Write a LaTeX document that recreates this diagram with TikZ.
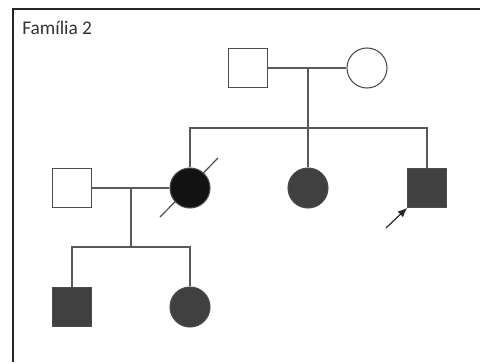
\documentclass[tikz,border=0pt]{standalone}
\usepackage{fontspec}
\setmainfont{Carlito}
\usetikzlibrary{arrows.meta}
\tikzset{
  male/.style={draw=black!70, fill=white, rectangle, minimum size=29pt, inner sep=0pt, line width=0.8pt},
  female/.style={draw=black!70, fill=white, circle, minimum size=30pt, inner sep=0pt, line width=0.8pt},
  affected/.style={fill=black!75},
  link/.style={draw=black!65, line width=0.8pt},
}
\begin{document}
\begin{tikzpicture}[x=0.75pt, y=-0.75pt]
\useasboundingbox (0,0) rectangle (480,362);
% frame
\draw[black!85, line width=1.6pt] (480,9) -- (13,9) -- (13,362);
\node[anchor=base west, inner sep=0pt, font=\fontsize{14.5}{16}\selectfont, text=black!80] (title) at (22,34) {Família 2};
% deceased (behind the circle)
\coordinate (d1) at (160,217);
\coordinate (d2) at (218,158);
\draw[black!70, line width=0.9pt] (d1) -- (d2);
% generation I
\node[male] (gf) at (248,68) {};
\node[female] (gm) at (367,68) {};
% generation II
\node[male] (hus) at (72,188) {};
\node[female, fill=black!93] (wife) at (190,188) {};
\node[female, affected] (sis) at (308,188) {};
\node[male, affected] (prob) at (427,188) {};
% generation III
\node[male, affected] (son) at (72,307) {};
\node[female, affected] (dau) at (190,307) {};
% couple lines and sibships
\coordinate (m1) at (308,68);
\coordinate (s1) at (308,128);
\coordinate (m2) at (131,188);
\coordinate (s2) at (131,247);
\draw[link] (gf.east) -- (gm.west);
\draw[link] (m1) -- (s1);
\draw[link] (wife.north) |- (s1) -| (prob.north);
\draw[link] (s1) -- (sis.north);
\draw[link] (hus.east) -- (wife.west);
\draw[link] (m2) -- (s2);
\draw[link] (son.north) |- (s2) -| (dau.north);
% proband
\coordinate (p0) at (386,228);
\draw[-{Latex[length=7pt, width=6pt]}, black!85, line width=0.9pt] (p0) -- (prob.south west);
\end{tikzpicture}
\end{document}
